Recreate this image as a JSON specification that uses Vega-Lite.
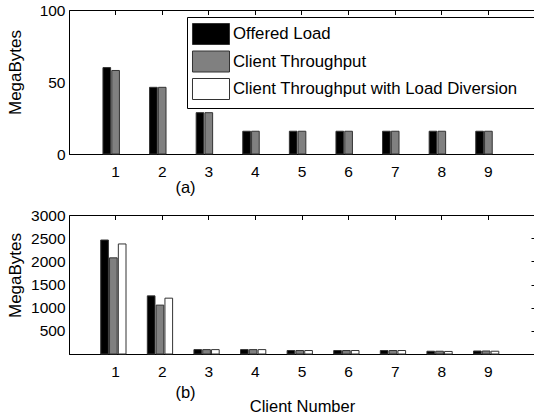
{
  "$schema": "https://vega.github.io/schema/vega-lite/v6.json",
  "padding": {"left": 5, "top": -17, "right": 0, "bottom": 0},
  "background": "white",
  "config": {
    "font": "Liberation Sans",
    "view": {"stroke": "black", "strokeWidth": 1},
    "axis": {
      "labelFont": "Liberation Sans", "titleFont": "Liberation Sans",
      "labelColor": "black", "titleColor": "black",
      "domainColor": "black", "tickColor": "black",
      "labelFontSize": 15.5, "titleFontSize": 17, "titleFontWeight": "normal",
      "grid": false, "domainWidth": 1
    }
  },
  "datasets": {
    "top": [
      {"client": 1, "series": "Offered Load", "value": 60},
      {"client": 1, "series": "Client Throughput", "value": 58},
      {"client": 2, "series": "Offered Load", "value": 46.3},
      {"client": 2, "series": "Client Throughput", "value": 46.3},
      {"client": 3, "series": "Offered Load", "value": 28.7},
      {"client": 3, "series": "Client Throughput", "value": 28.7},
      {"client": 4, "series": "Offered Load", "value": 15.8},
      {"client": 4, "series": "Client Throughput", "value": 15.8},
      {"client": 5, "series": "Offered Load", "value": 15.8},
      {"client": 5, "series": "Client Throughput", "value": 15.8},
      {"client": 6, "series": "Offered Load", "value": 15.8},
      {"client": 6, "series": "Client Throughput", "value": 15.8},
      {"client": 7, "series": "Offered Load", "value": 15.8},
      {"client": 7, "series": "Client Throughput", "value": 15.8},
      {"client": 8, "series": "Offered Load", "value": 15.8},
      {"client": 8, "series": "Client Throughput", "value": 15.8},
      {"client": 9, "series": "Offered Load", "value": 15.8},
      {"client": 9, "series": "Client Throughput", "value": 15.8}
    ],
    "bottom": [
      {"client": 1, "series": "Offered Load", "value": 2460},
      {"client": 1, "series": "Client Throughput", "value": 2075},
      {"client": 1, "series": "Client Throughput with Load Diversion", "value": 2375},
      {"client": 2, "series": "Offered Load", "value": 1255},
      {"client": 2, "series": "Client Throughput", "value": 1055},
      {"client": 2, "series": "Client Throughput with Load Diversion", "value": 1205},
      {"client": 3, "series": "Offered Load", "value": 95},
      {"client": 3, "series": "Client Throughput", "value": 95},
      {"client": 3, "series": "Client Throughput with Load Diversion", "value": 95},
      {"client": 4, "series": "Offered Load", "value": 95},
      {"client": 4, "series": "Client Throughput", "value": 95},
      {"client": 4, "series": "Client Throughput with Load Diversion", "value": 95},
      {"client": 5, "series": "Offered Load", "value": 75},
      {"client": 5, "series": "Client Throughput", "value": 75},
      {"client": 5, "series": "Client Throughput with Load Diversion", "value": 75},
      {"client": 6, "series": "Offered Load", "value": 75},
      {"client": 6, "series": "Client Throughput", "value": 75},
      {"client": 6, "series": "Client Throughput with Load Diversion", "value": 75},
      {"client": 7, "series": "Offered Load", "value": 75},
      {"client": 7, "series": "Client Throughput", "value": 75},
      {"client": 7, "series": "Client Throughput with Load Diversion", "value": 75},
      {"client": 8, "series": "Offered Load", "value": 60},
      {"client": 8, "series": "Client Throughput", "value": 60},
      {"client": 8, "series": "Client Throughput with Load Diversion", "value": 55},
      {"client": 9, "series": "Offered Load", "value": 65},
      {"client": 9, "series": "Client Throughput", "value": 65},
      {"client": 9, "series": "Client Throughput with Load Diversion", "value": 60}
    ]
  },
  "title": {
    "text": "Client Number", "orient": "bottom", "anchor": "middle",
    "dx": 31, "offset": -2, "fontSize": 16.5, "fontWeight": "normal",
    "font": "Liberation Sans", "color": "black"
  },
  "bounds": "flush",
  "spacing": 61,
  "resolve": {"scale": {"color": "independent"}, "legend": {"color": "independent"}},
  "vconcat": [
    {
      "width": 466, "height": 144,
      "data": {"name": "top"},
      "layer": [
        {
          "mark": {"type": "bar", "stroke": "#333333", "strokeWidth": 1},
          "encoding": {
            "x": {
              "field": "client", "type": "ordinal",
              "scale": {"paddingInner": 0.433, "paddingOuter": 0.7165},
              "axis": {"labelAngle": 0, "ticks": false, "labelPadding": 10,
                       "title": "(a)", "titleX": 116, "titleY": 38,
                       "titleAlign": "center", "titleBaseline": "alphabetic", "titleFontSize": 16.5}
            },
            "xOffset": {
              "field": "series", "type": "nominal",
              "scale": {"domain": ["Offered Load", "Client Throughput"], "paddingInner": 0.13, "paddingOuter": 0.065}
            },
            "y": {
              "field": "value", "type": "quantitative",
              "scale": {"domain": [0, 100], "nice": false},
              "axis": {"values": [0, 50, 100], "ticks": false, "labelPadding": 4, "format": "d",
                       "title": "MegaBytes", "titleX": -48.5, "titleY": 62,
                       "titleAlign": "center", "titleBaseline": "alphabetic", "titleAngle": -90}
            },
            "color": {
              "field": "series", "type": "nominal",
              "scale": {"domain": ["Offered Load", "Client Throughput", "Client Throughput with Load Diversion"],
                        "range": ["black", "#808080", "white"]},
              "legend": {
                "orient": "none", "legendX": 118, "legendY": 7, "title": null,
                "fillColor": "white", "strokeColor": "black", "padding": 6,
                "symbolType": "M-1.762,-1H1.762V1H-1.762Z", "symbolSize": 441,
                "symbolStrokeColor": "#333333", "symbolStrokeWidth": 1,
                "symbolOffset": 7, "labelOffset": 11,
                "labelFontSize": 16.8, "labelFont": "Liberation Sans", "labelColor": "black",
                "labelLimit": 600, "rowPadding": 1.5,
                "labelExpr": "datum.label + '\u2800'"
              }
            }
          }
        },
        {
          "mark": {"type": "bar", "opacity": 0},
          "encoding": {
            "x": {"field": "client", "type": "ordinal",
                  "axis": {"orient": "top", "labels": false, "ticks": true, "tickSize": -4.5, "domain": false, "title": null, "minExtent": 0, "labelPadding": 0, "titlePadding": 0}},
            "y": {"field": "value", "type": "quantitative",
                  "axis": {"orient": "right", "labels": false, "ticks": true, "tickSize": -4, "domain": false, "title": null, "values": [50], "minExtent": 0, "labelPadding": 0, "titlePadding": 0}}
          }
        }
      ],
      "resolve": {"axis": {"x": "independent", "y": "independent"}}
    },
    {
      "width": 466, "height": 139,
      "data": {"name": "bottom"},
      "layer": [
        {
          "mark": {"type": "bar", "stroke": "#333333", "strokeWidth": 1},
          "encoding": {
            "x": {
              "field": "client", "type": "ordinal",
              "scale": {"paddingInner": 0.337, "paddingOuter": 0.6685},
              "axis": {"labelAngle": 0, "ticks": false, "labelPadding": 10,
                       "title": "(b)", "titleX": 116, "titleY": 43,
                       "titleAlign": "center", "titleBaseline": "alphabetic", "titleFontSize": 16.5}
            },
            "xOffset": {
              "field": "series", "type": "nominal",
              "scale": {"domain": ["Offered Load", "Client Throughput", "Client Throughput with Load Diversion"], "paddingInner": 0.16, "paddingOuter": 0.08}
            },
            "y": {
              "field": "value", "type": "quantitative",
              "scale": {"domain": [0, 3000], "nice": false},
              "axis": {"values": [500, 1000, 1500, 2000, 2500, 3000], "ticks": false, "labelPadding": 4, "format": "d",
                       "title": "MegaBytes", "titleX": -48.5, "titleY": 60,
                       "titleAlign": "center", "titleBaseline": "alphabetic", "titleAngle": -90}
            },
            "color": {
              "field": "series", "type": "nominal",
              "scale": {"domain": ["Offered Load", "Client Throughput", "Client Throughput with Load Diversion"],
                        "range": ["black", "#808080", "white"]},
              "legend": null
            }
          }
        },
        {
          "mark": {"type": "bar", "opacity": 0},
          "encoding": {
            "x": {"field": "client", "type": "ordinal",
                  "axis": {"orient": "top", "labels": false, "ticks": true, "tickSize": -4.5, "domain": false, "title": null, "minExtent": 0, "labelPadding": 0, "titlePadding": 0}},
            "y": {"field": "value", "type": "quantitative",
                  "axis": {"orient": "right", "labels": false, "ticks": true, "tickSize": -4, "domain": false, "title": null, "values": [500, 1000, 1500, 2000, 2500], "minExtent": 0, "labelPadding": 0, "titlePadding": 0}}
          }
        }
      ],
      "resolve": {"axis": {"x": "independent", "y": "independent"}}
    }
  ]
}
